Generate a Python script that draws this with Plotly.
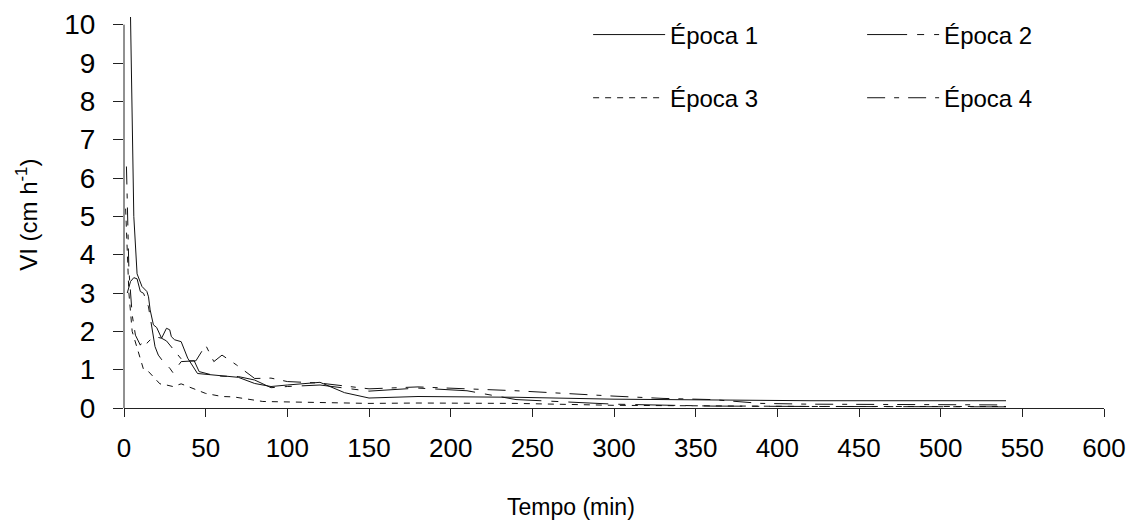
import plotly.graph_objects as go

# ---- data ----
t1 = [4, 6, 8, 11, 14, 15, 16, 18, 20, 23, 26, 28, 29, 31, 35, 39, 45, 54, 60, 70, 80, 90, 100, 110, 120, 135, 150, 180, 240, 300, 360, 420, 480, 540]
v1 = [10.2, 5.0, 3.5, 3.17, 3.04, 2.9, 2.56, 2.17, 2.1, 1.82, 2.08, 2.04, 1.86, 1.78, 1.73, 1.3, 0.9, 0.86, 0.84, 0.8, 0.64, 0.56, 0.6, 0.64, 0.67, 0.4, 0.26, 0.3, 0.28, 0.23, 0.21, 0.19, 0.19, 0.19]

t2 = [2, 4, 6, 8, 10, 12, 15, 17, 19, 21, 24, 28, 30, 35, 43, 46, 55, 60, 70, 80, 90, 100, 120, 150, 180, 210, 240, 300, 360, 420, 480, 540]
v2 = [3.0, 3.3, 3.4, 3.37, 3.04, 2.99, 2.64, 2.12, 1.6, 1.38, 1.21, 1.04, 0.92, 1.21, 1.23, 0.95, 0.85, 0.83, 0.82, 0.73, 0.53, 0.56, 0.6, 0.44, 0.52, 0.45, 0.22, 0.1, 0.05, 0.04, 0.03, 0.03]

t3 = [1, 3, 5, 7, 9, 11, 12, 15, 17, 20, 22, 26, 30, 35, 42, 50, 60, 67, 85, 100, 120, 150, 180, 240, 300, 360, 420, 480, 540]
v3 = [5.2, 3.0, 2.0, 1.7, 1.45, 1.12, 1.0, 0.95, 0.86, 0.73, 0.63, 0.6, 0.56, 0.63, 0.51, 0.38, 0.3, 0.29, 0.17, 0.16, 0.14, 0.12, 0.13, 0.12, 0.07, 0.05, 0.04, 0.04, 0.04]

t4 = [1.5, 3, 5, 7, 10, 12, 14, 17, 20, 23, 26, 29, 32, 36, 44, 50, 55, 60, 69, 80, 90, 100, 120, 150, 180, 240, 300, 330, 360, 390, 420, 480, 540]
v4 = [6.3, 3.6, 2.43, 1.9, 1.64, 1.78, 1.69, 1.82, 1.85, 1.82, 1.75, 1.6, 1.45, 1.23, 1.23, 1.64, 1.21, 1.38, 1.12, 0.77, 0.78, 0.69, 0.65, 0.5, 0.55, 0.45, 0.31, 0.25, 0.22, 0.12, 0.1, 0.09, 0.08]

names = ["Época 1", "Época 2", "Época 3", "Época 4"]
x_ticks = list(range(0, 601, 50))
y_ticks = list(range(0, 11))

FONT = "Liberation Sans, Arial, sans-serif"
series = [
    (t1, v1, names[0], "solid", "legend"),
    (t2, v2, names[1], "40px,10px,7px,10px", "legend"),
    (t3, v3, names[2], "6px,6px", "legend2"),
    (t4, v4, names[3], "18px,9px,5px,9px", "legend2"),
]

fig = go.Figure()
for t, v, n, d, lg in series:
    fig.add_trace(go.Scatter(x=t, y=v, name=n, mode="lines",
                             line=dict(color="#111", width=1, dash=d),
                             legend=lg))

legend_common = dict(orientation="h", xref="container", yref="container",
                     xanchor="left", yanchor="middle",
                     font=dict(size=24, family=FONT), entrywidth=187, itemwidth=72,
                     bgcolor="rgba(0,0,0,0)")

fig.update_layout(
    width=1131, height=522,
    margin=dict(l=124, r=27, t=17, b=114, autoexpand=False),
    paper_bgcolor="white", plot_bgcolor="white",
    font=dict(family=FONT, color="black"),
    showlegend=True,
    legend=dict(x=0.52, y=0.933, **legend_common),
    legend2=dict(x=0.52, y=0.812, **legend_common),
    xaxis=dict(range=[0, 600], tickvals=x_ticks, ticktext=[str(v) for v in x_ticks],
               showgrid=False, zeroline=False, showline=True, linecolor="#222", linewidth=1,
               ticks="outside", ticklen=8, tickcolor="#222", tickfont=dict(size=26),
               ticklabelstandoff=9, automargin=False),
    yaxis=dict(range=[0, 10.2], tickvals=y_ticks, ticktext=[str(v) for v in y_ticks],
               showgrid=False, zeroline=False, showline=False,
               ticks="outside", ticklen=10, tickcolor="#222", tickfont=dict(size=28),
               ticklabelstandoff=12, automargin=False),
    shapes=[dict(type="line", xref="paper", yref="y", x0=0, x1=0, y0=0, y1=10,
                 line=dict(color="#222", width=1))],
    annotations=[
        dict(text="Tempo (min)", xref="paper", yref="paper", x=0.456, y=-0.253,
             xanchor="center", yanchor="middle", showarrow=False, font=dict(size=23)),
        dict(text="VI (cm h<sup>-1</sup>)", xref="paper", yref="paper", x=-0.099, y=0.494,
             xanchor="center", yanchor="middle", showarrow=False, textangle=-90,
             font=dict(size=24)),
    ],
)

fig.write_html("out.html")
